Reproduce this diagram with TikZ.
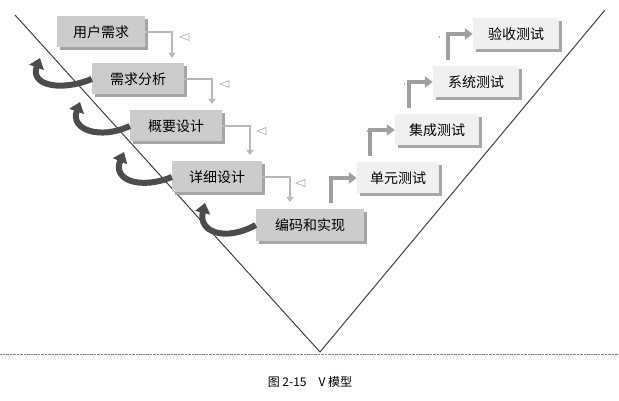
\documentclass[tikz,border=0pt]{standalone}
\usepackage{fontspec}
\newfontfamily\cjk{Noto Sans CJK SC}
\usetikzlibrary{arrows.meta,shadows}
\begin{document}
\begin{tikzpicture}[x=1pt,y=-1pt,
  lbox/.style={draw=none,fill=gray!40,minimum height=31pt,inner xsep=3pt,font=\cjk\fontsize{14}{14}\selectfont,drop shadow={shadow xshift=3pt,shadow yshift=-3pt,fill=gray!70,opacity=1}},
  rbox/.style={lbox,fill=gray!12},
  hl/.style={draw=gray!65,line width=0.6pt},
  hw/.style={draw=white,line width=1pt},
  down/.style={draw=gray!55,line width=2pt,-{Triangle[length=5pt,width=7pt]}},
  up/.style={draw=gray!75,line width=4pt,-{Triangle[length=8pt,width=11pt]}},
  curv/.style={draw=gray!60!black,line width=6pt,-{Triangle[length=10pt,width=15pt]}}]
\useasboundingbox (0,0) rectangle (619,401);
\draw[line width=1pt,gray!50!black] (15,15) -- (320,352) -- (605,10);
\draw[densely dotted,gray] (0,354) -- (619,354);
\node at (310,382) {\cjk\fontsize{12}{12}\selectfont 图 2-15\quad V 模型};
% left boxes
\node[lbox,minimum width=88pt] (a) at (101,32) {用户需求};
\node[lbox,minimum width=92pt] (b) at (138,79) {需求分析};
\node[lbox,minimum width=92pt] (c) at (176,126) {概要设计};
\node[lbox,minimum width=90pt] (d) at (217,177) {详细设计};
\node[lbox,minimum width=108pt] (e) at (310,225) {编码和实现};
% right boxes
\node[rbox,minimum width=86pt] (ra) at (516,34) {验收测试};
\node[rbox,minimum width=86pt] (rb) at (476,82) {系统测试};
\node[rbox,minimum width=84pt] (rc) at (437,130) {集成测试};
\node[rbox,minimum width=82pt] (rd) at (398,178) {单元测试};
% down arrows
\draw[down] (a.east) -| (172,58);
\draw[down] (b.east) -| (212,104);
\draw[down] (c.east) -| (250,155);
\draw[down] (d.east) -| (290,202);
% horizontal arrows
\foreach \xa/\xb/\yy in {180/440/37, 220/405/84, 257/368/131, 296/330/183}{
  \draw[line width=2.4pt,gray!65] (\xa+6,\yy) -- (\xb,\yy);
  \draw[line width=1.2pt,white] (\xa+6,\yy) -- (\xb-1,\yy);
  \draw[gray!65,fill=white,line width=0.6pt] (\xa,\yy) -- (\xa+9,\yy-3.5) -- (\xa+9,\yy+3.5) -- cycle;
}
% up arrows
\draw[up] (331,203) |- (rd.west);
\draw[up] (370,156) |- (rc.west);
\draw[up] (409,108) |- (rb.west);
\draw[up] (448,60) |- (ra.west);
% curved arrows
\draw[curv] (b.west) .. controls (60,92) and (30,85) .. (40,58);
\draw[curv] (c.west) .. controls (100,140) and (70,130) .. (80,102);
\draw[curv] (d.west) .. controls (140,190) and (112,180) .. (124,152);
\draw[curv] (e.west) .. controls (225,242) and (198,232) .. (205,203);
\end{tikzpicture}
\end{document}
